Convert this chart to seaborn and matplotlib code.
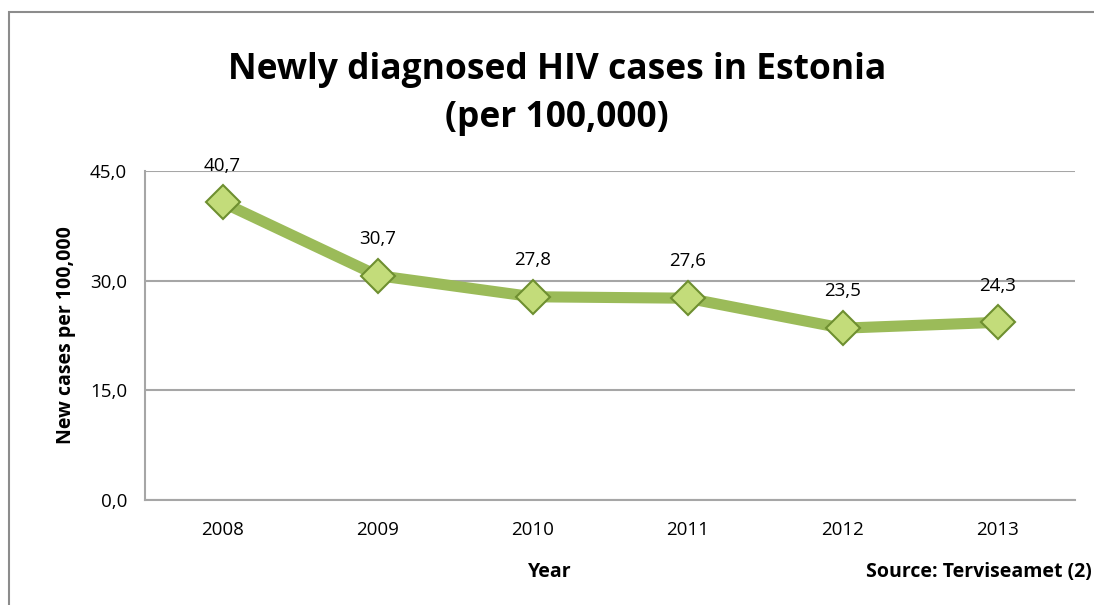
import matplotlib
matplotlib.use("Agg")
import matplotlib.pyplot as plt
import seaborn as sns
import pandas as pd
from matplotlib.patches import Rectangle

years = ['2008', '2009', '2010', '2011', '2012', '2013']
cases = [40.7, 30.7, 27.8, 27.6, 23.5, 24.3]
y_ticks = [0, 15, 30, 45]

df = pd.DataFrame({'Year': years, 'Cases': cases})

sns.set_style('white')
plt.rcParams['font.family'] = ['Open Sans', 'DejaVu Sans']
plt.rcParams['text.color'] = 'black'
plt.rcParams['axes.labelcolor'] = 'black'
plt.rcParams['xtick.labelcolor'] = 'black'
plt.rcParams['ytick.labelcolor'] = 'black'

fig = plt.figure(figsize=(10.94, 6.05), dpi=100)
ax = fig.add_axes([145 / 1094, 105 / 605, 930 / 1094, 329 / 605])

sns.lineplot(x='Year', y='Cases', data=df, ax=ax, color='#9BBB59', linewidth=8,
             marker='D', markersize=17, markerfacecolor='#C3DC7A',
             markeredgecolor='#6E8F30', markeredgewidth=1.5, solid_capstyle='butt')

for i, v in enumerate(cases):
    ax.annotate(f'{v:.1f}'.replace('.', ','), (i, v), xytext=(0, 20),
                textcoords='offset points', ha='center', va='bottom', fontsize=13.5)

ax.set_xlim(-0.5, 5.5)
ax.set_ylim(0, 45)
ax.set_yticks(y_ticks)
ax.set_yticklabels([f'{t:.1f}'.replace('.', ',') for t in y_ticks], fontsize=13.5)
ax.set_xticks(range(len(years)))
ax.set_xticklabels(years, fontsize=13.5)
ax.set_xticks([i - 0.5 for i in range(len(years) + 1)], minor=True)
ax.tick_params(axis='x', which='major', length=0, pad=15)
ax.tick_params(axis='x', which='minor', length=7, color='#A6A6A6', width=1.5, direction='out')
ax.tick_params(axis='y', length=7, color='#A6A6A6', width=1.5, direction='out', pad=6)

ax.grid(axis='y', color='#A6A6A6', linewidth=1.5)
ax.set_axisbelow(True)
for s in ['top', 'right']:
    ax.spines[s].set_visible(False)
for s in ['left', 'bottom']:
    ax.spines[s].set_color('#A6A6A6')
    ax.spines[s].set_linewidth(1.5)

ax.set_xlabel('')
ax.set_ylabel('New cases per 100,000', fontsize=14, fontweight='bold', labelpad=10)

fig.text(550 / 1094, 1 - 572 / 605, 'Year', ha='center', va='center',
         fontsize=14, fontweight='bold')
fig.text(866 / 1094, 1 - 572 / 605, 'Source: Terviseamet (2)', ha='left', va='center',
         fontsize=14, fontweight='bold')
fig.text(557 / 1094, 1 - 94 / 605, 'Newly diagnosed HIV cases in Estonia\n(per 100,000)',
         ha='center', va='center', fontsize=25.5, fontweight='bold', linespacing=1.45)

fig.add_artist(Rectangle((9 / 1094, -0.1), 1.2, 1.1 - 12 / 605, transform=fig.transFigure,
                         fill=False, edgecolor='#8C8C8C', linewidth=1.5))

plt.savefig('out.png', dpi=100)
